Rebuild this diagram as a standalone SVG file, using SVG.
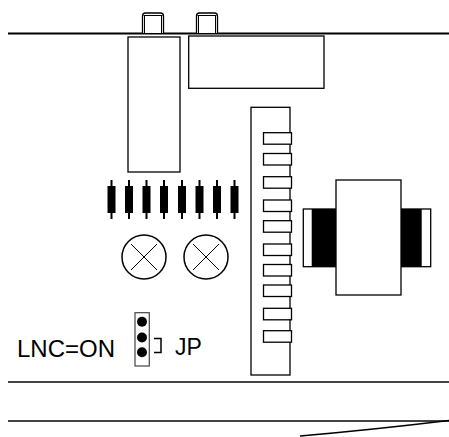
<svg xmlns="http://www.w3.org/2000/svg" width="449" height="437" viewBox="0 0 449 437">
<style>
.o{fill:#fff;stroke:#000;stroke-width:1.3}
.l{stroke:#000;stroke-width:2;fill:none}
.g{stroke:#444;stroke-width:2;fill:none}
.r{fill:#000;stroke:none}
.t{font-family:"Liberation Sans",Arial,sans-serif;fill:#000}
</style>
<defs>
<g id="res"><rect x="-1" y="180" width="2" height="39" fill="#000"/><rect x="-4" y="186" width="8" height="27" fill="#000"/></g>
<g id="knob"><path d="M0,33 V16 Q0,13 3,13 H18 Q21,13 21,16 V33" class="o"/><line x1="2" y1="16" x2="2" y2="33" stroke="#000" stroke-width="1"/><line x1="19" y1="16" x2="19" y2="33" stroke="#000" stroke-width="1"/><line x1="1" y1="15.5" x2="20" y2="15.5" stroke="#000" stroke-width="1"/></g>
<rect id="pin" x="0" y="0" width="28" height="11.5" class="o"/>
</defs>
<rect width="449" height="437" fill="#fff"/>
<g id="lines">
<line x1="8" y1="33.5" x2="449" y2="33.5" class="l"/>
<line x1="8" y1="382" x2="449" y2="382" class="g"/>
<line x1="8" y1="421" x2="449" y2="421" class="g"/>
<path d="M300,436 Q370,430 449,420.5" stroke="#000" stroke-width="1.5" fill="none"/>
</g>
<g id="knobs"><use href="#knob" x="142.5"/><use href="#knob" x="196.5"/></g>
<g id="tall-block"><rect x="128" y="37" width="52" height="135" class="o"/></g>
<g id="wide-block"><rect x="188.7" y="36" width="135.3" height="52.3" class="o"/></g>
<g id="resistors">
<use href="#res" x="111.5"/><use href="#res" x="129"/><use href="#res" x="146.5"/><use href="#res" x="164"/>
<use href="#res" x="182"/><use href="#res" x="199.5"/><use href="#res" x="217"/><use href="#res" x="234.5"/>
</g>
<g id="lamps" stroke="#000" fill="none" stroke-width="1.5">
<circle cx="144" cy="257" r="22"/><path d="M131,244 L157,270 M157,244 L131,270" stroke-width="1"/>
<circle cx="206" cy="257" r="22"/><path d="M193,244 L219,270 M219,244 L193,270" stroke-width="1"/>
</g>
<g id="connector-strip">
<rect x="251" y="107.3" width="39" height="267.7" class="o"/>
<use href="#pin" x="263.5" y="132.7"/><use href="#pin" x="263.5" y="153.5"/><use href="#pin" x="263.5" y="176.7"/>
<use href="#pin" x="263.5" y="200"/><use href="#pin" x="263.5" y="220.7"/><use href="#pin" x="263.5" y="244"/>
<use href="#pin" x="263.5" y="264.5"/><use href="#pin" x="263.5" y="285"/><use href="#pin" x="263.5" y="308.3"/>
<use href="#pin" x="263.5" y="330.7"/>
</g>
<g id="transformer">
<rect x="303.3" y="209" width="127.4" height="57.7" class="o"/>
<rect x="311.7" y="209" width="24.3" height="57.7" class="r"/>
<rect x="401" y="209" width="20.7" height="57.7" class="r"/>
<rect x="336" y="180" width="65" height="115" class="o"/>
</g>
<g id="jumper">
<rect x="135" y="312.7" width="14.3" height="53.3" fill="#fff" stroke="#444" stroke-width="1.2"/>
<circle cx="142" cy="321.7" r="5" fill="#000"/><circle cx="142" cy="337.5" r="5" fill="#000"/><circle cx="142" cy="352.3" r="5" fill="#000"/>
<path d="M154,338.5 H161 V352.5 H154" stroke="#000" stroke-width="1.5" fill="none"/>
<text x="175" y="355" class="t" font-size="23">JP</text>
</g>
<g id="label"><text x="17" y="357" class="t" font-size="24">LNC=ON</text></g>
</svg>
